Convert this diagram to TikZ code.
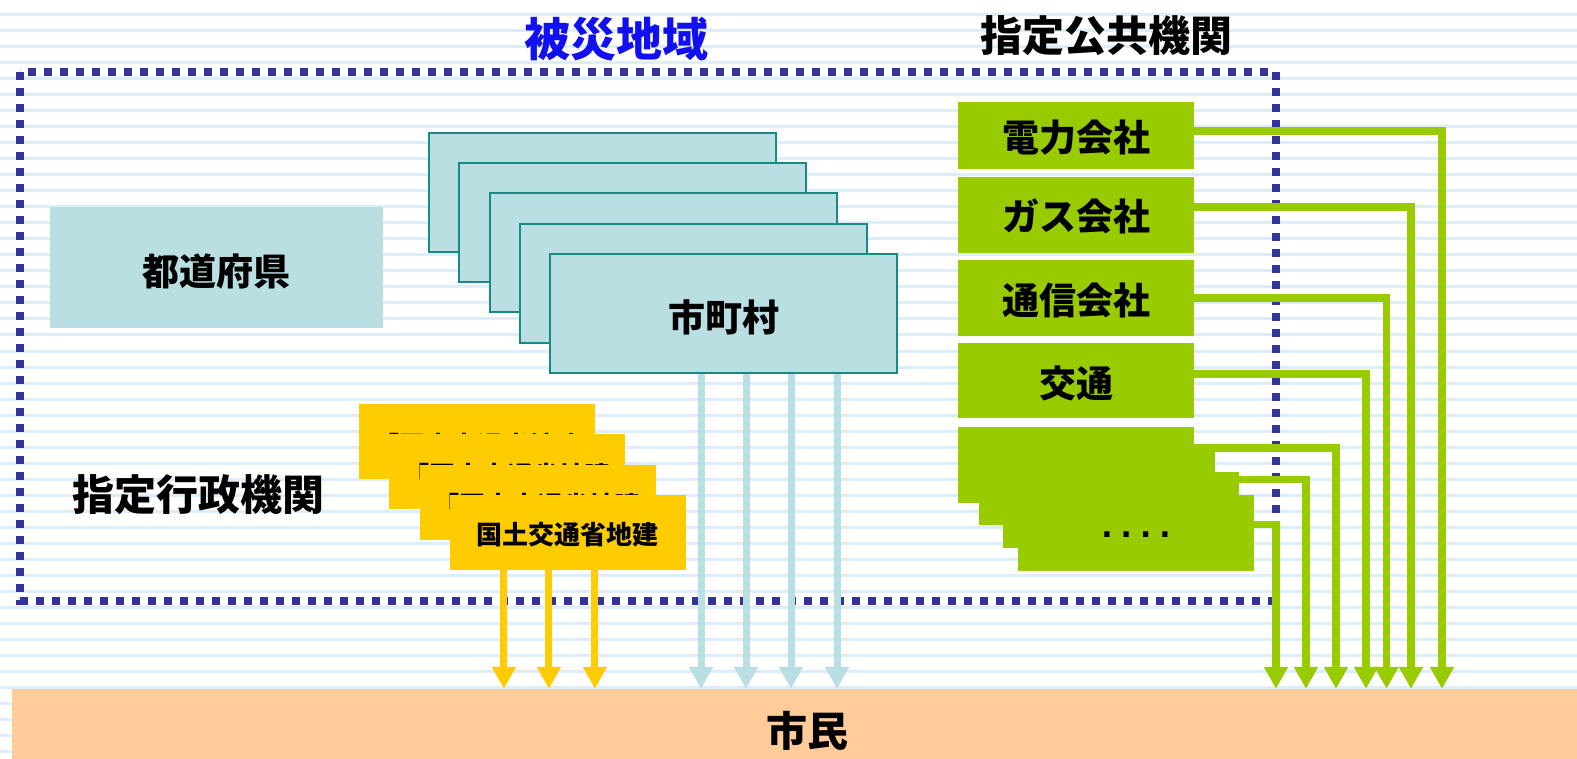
\documentclass[tikz,border=0pt]{standalone}
\usepackage{fontspec}
\newfontfamily\jp{Noto Sans CJK JP}
\newfontfamily\dotfont{DejaVu Sans Mono}
\usetikzlibrary{arrows.meta}
\definecolor{stripecol}{HTML}{DDEEF9}
\definecolor{dotcol}{HTML}{333399}
\definecolor{teallight}{HTML}{BADFE3}
\definecolor{tealline}{HTML}{178A86}
\definecolor{yel}{HTML}{FFCC00}
\definecolor{grn}{HTML}{99CC00}
\definecolor{peach}{HTML}{FFCC99}
\definecolor{titleblue}{HTML}{1010F0}
\newcommand\lowt[2]{\raisebox{-#1}[\height][\depth]{#2}}
\begin{document}
\begin{tikzpicture}[x=1pt,y=-1pt,
  stripe/.style={draw=stripecol,line width=3pt},
  area/.style={draw=dotcol,line width=8pt,dash pattern=on 8pt off 8pt},
  jpfont/.style={font={\jp\bfseries\fontsize{#1pt}{#1pt}\selectfont}},
  title/.style={inner sep=0pt},
  prefbox/.style={fill=teallight,inner sep=0pt,minimum width=333pt,minimum height=121pt,jpfont=37},
  munbox/.style={fill=teallight,draw=tealline,line width=2pt,inner sep=0pt,minimum width=347pt,minimum height=119pt,jpfont=37},
  yelbox/.style={fill=yel,inner sep=0pt,minimum width=236pt,minimum height=75pt,jpfont=26},
  grnbox/.style={fill=grn,inner sep=0pt,minimum width=236pt,minimum height=76pt,jpfont=37},
  barbox/.style={fill=peach,inner sep=0pt,minimum width=1565pt,minimum height=70pt},
  tarrow/.style={draw=teallight,line width=7pt,-{Triangle[width=23pt,length=22pt]}},
  yarrow/.style={draw=yel,line width=7pt,-{Triangle[width=23pt,length=22pt]}},
  garrow/.style={draw=grn,line width=7.5pt,line join=miter,-{Triangle[width=23pt,length=22pt]}}
]
\useasboundingbox (0,0) rectangle (1577,759);
\fill[white] (0,0) rectangle (1577,759);
% background stripes
\foreach \k in {0,...,48} \draw[stripe] (0,16*\k-1) -- (1577,16*\k-1);
% disaster area border
\draw[area] (20,72) rectangle (1275.5,600.5);
% titles
\node[title,jpfont=46,text=titleblue] (hisai) at (616,39) {被災地域};
\node[title,jpfont=42] (kokyo) at (1106,36) {指定公共機関};
\node[title,jpfont=42] (gyosei) at (198,495) {指定行政機関};
% citizens bar
\node[barbox] (bar) at (794.5,724) {};
\node[title,jpfont=41] (shimin) at (807,731) {市民};
% prefecture
\node[prefbox] (pref) at (216.5,267.5) {\lowt{4pt}{都道府県}};
% municipalities
\node[munbox] (mun1) at (602.5,192.5) {};
\node[munbox] (mun2) at (632.75,222.75) {};
\node[munbox] (mun3) at (663,253) {};
\node[munbox] (mun4) at (693.25,283.25) {};
\node[munbox] (mun5) at (723.5,313.5) {\lowt{4pt}{市町村}};
% MLIT offices
\node[yelbox] (yel1) at (477,441.5) {\lowt{4pt}{「国土交通省地建}};
\node[yelbox] (yel2) at (507.3,471.8) {\lowt{4pt}{「国土交通省地建}};
\node[yelbox] (yel3) at (537.6,502.1) {\lowt{4pt}{「国土交通省地建}};
\node[yelbox] (yel4) at (567.9,532.4) {\lowt{2.5pt}{国土交通省地建}};
% public companies
\node[grnbox,minimum height=67pt] (g1) at (1076,135.5) {\lowt{2pt}{電力会社}};
\node[grnbox] (g2) at (1076,215) {\lowt{1.5pt}{ガス会社}};
\node[grnbox] (g3) at (1076,298) {\lowt{2.5pt}{通信会社}};
\node[grnbox,minimum height=75pt] (g4) at (1076,380.5) {\lowt{3pt}{交通}};
\node[grnbox] (gA) at (1076,465) {};
\node[grnbox] (gB) at (1097,487) {};
\node[grnbox] (gC) at (1121,510) {};
\node[grnbox,font={\dotfont\bfseries\fontsize{32pt}{32pt}\selectfont}] (gD) at (1136,533) {\lowt{1.5pt}{....}};
% arrows: MLIT
\foreach \s in {-64,-19,27}
  \draw[yarrow] ([xshift=\s pt]yel4.south) -- ([xshift=\s pt]yel4.south |- bar.north);
% arrows: municipalities
\foreach \s in {-22.5,22.5,67.5,113.5}
  \draw[tarrow] ([xshift=\s pt]mun5.south) -- ([xshift=\s pt]mun5.south |- bar.north);
% arrows: companies
\coordinate (v1) at (1442,0);
\coordinate (v2) at (1411,0);
\coordinate (v3) at (1386.5,0);
\coordinate (v4) at (1366,0);
\coordinate (v5) at (1336,0);
\coordinate (v6) at (1306,0);
\coordinate (v7) at (1276,0);
\draw[garrow] ([yshift=4.5pt]g1.east) -| (v1 |- bar.north);
\draw[garrow] ([yshift=8pt]g2.east) -| (v2 |- bar.north);
\draw[garrow] (g3.east) -| (v3 |- bar.north);
\draw[garrow] ([yshift=6.5pt]g4.east) -| (v4 |- bar.north);
\draw[garrow] ([yshift=17pt]gA.east) -| (v5 |- bar.north);
\draw[garrow] ([yshift=7.5pt]gB.east) -| (v6 |- bar.north);
\draw[garrow] ([yshift=8.5pt]gD.east) -| (v7 |- bar.north);
\end{tikzpicture}
\end{document}
